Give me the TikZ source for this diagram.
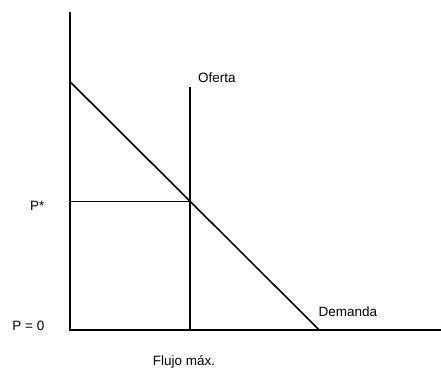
\documentclass[tikz,border=0pt]{standalone}
\usepackage{fontspec}
\setmainfont{Liberation Sans}
\begin{document}
\begin{tikzpicture}[x=1pt,y=-1pt,
  axis/.style={line width=2pt},
  curve/.style={line width=1.6pt},
  lbl/.style={inner sep=0pt,font=\fontsize{13.5}{15}\selectfont}]
\useasboundingbox[fill=white] (0,0) rectangle (441,369);
% coordinates
\coordinate (ytop) at (70,12);
\coordinate (origin) at (70,330);
\coordinate (xend) at (441,330);
\coordinate (dtop) at (70,81.7);
\coordinate (dbot) at (319.3,330);
\coordinate (stop) at (190,87.3);
\coordinate (sbot) at (190,330);
\coordinate (pstar) at (70,201.3);
\coordinate (eq) at (190,201.3);
% lines
\draw[axis] (ytop) -- (origin) -- (xend);
\draw[curve] (dtop) -- (dbot);
\draw[curve] (stop) -- (sbot);
\draw[curve] (pstar) -- (eq);
% labels
\node[lbl,anchor=base west] (oferta) at (198,82.3) {Oferta};
\node[lbl,anchor=base west] (pst) at (30,210.3) {P*};
\node[lbl,anchor=base west] (p0) at (12.3,330) {P = 0};
\node[lbl,anchor=base west] (dem) at (318.3,316.5) {Demanda};
\node[lbl,anchor=base west] (flujo) at (152.7,365.5) {Flujo máx.};
\end{tikzpicture}
\end{document}
